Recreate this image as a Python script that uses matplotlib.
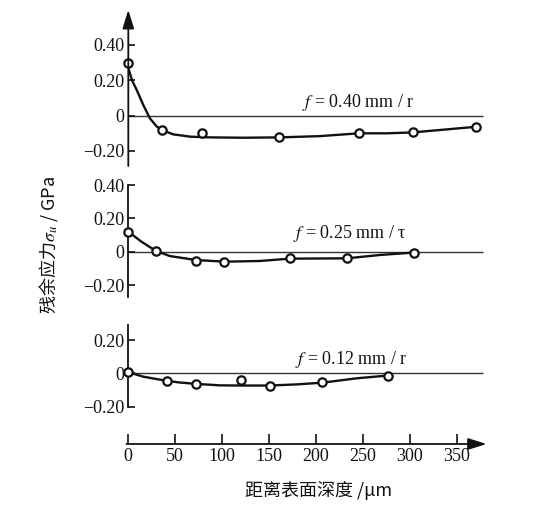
import matplotlib
matplotlib.use("Agg")
import matplotlib.pyplot as plt

plt.rcParams["mathtext.fontset"] = "stix"
plt.rcParams["font.family"] = ["Liberation Serif", "DejaVu Sans"]

# ---------------- data ----------------
depth_ticks = [0, 50, 100, 150, 200, 250, 300, 350]
depth_tick_labels = ["0", "50", "100", "150", "200", "250", "300", "350"]

# f = 0.40 mm/r
pts_x_040 = [0, 36, 79, 161, 246, 303, 371]
pts_y_040 = [0.296, -0.082, -0.100, -0.123, -0.100, -0.094, -0.063]
fit_x_040 = [0, 4, 9, 16, 23, 30, 36, 48, 66, 87, 123, 161, 204, 246, 275, 303, 339, 371]
fit_y_040 = [0.27, 0.20, 0.145, 0.06, -0.015, -0.06, -0.082, -0.106, -0.119, -0.123,
             -0.125, -0.123, -0.116, -0.10, -0.10, -0.095, -0.078, -0.063]
yticks_040 = [0.40, 0.20, 0.0, -0.20]
ylabels_040 = ["0.40", "0.20", "0", "\u22120.20"]

# f = 0.25 mm/r
pts_x_025 = [0, 29, 72, 102, 172, 233, 305]
pts_y_025 = [0.12, 0.006, -0.054, -0.064, -0.04, -0.040, -0.006]
fit_x_025 = [0, 14, 29, 44, 72, 102, 140, 172, 233, 268, 305]
fit_y_025 = [0.12, 0.06, 0.006, -0.026, -0.05, -0.06, -0.056, -0.042, -0.04, -0.02, -0.005]
yticks_025 = [0.40, 0.20, 0.0, -0.20]
ylabels_025 = ["0.40", "0.20", "0", "\u22120.20"]

# f = 0.12 mm/r
pts_x_012 = [0, 41, 72, 120, 151, 207, 277]
pts_y_012 = [0.007, -0.045, -0.063, -0.039, -0.073, -0.053, -0.013]
fit_x_012 = [0, 16, 41, 55, 72, 98, 120, 151, 180, 207, 243, 277]
fit_y_012 = [0.007, -0.02, -0.045, -0.055, -0.063, -0.072, -0.073, -0.073, -0.066, -0.056,
             -0.03, -0.013]
yticks_012 = [0.20, 0.0, -0.20]
ylabels_012 = ["0.20", "0", "\u22120.20"]

labels = ["$f$ = 0.40 mm / r", "$f$ = 0.25 mm / \u03c4", "$f$ = 0.12 mm / r"]
ylabel_text = "残余应力$\\sigma_u$ / GPa"
xlabel_text = "距离表面深度 /μm"

# ---------------- layout ----------------
W, H = 538, 512
fig = plt.figure(figsize=(W / 100, H / 100), dpi=100)
fig.patch.set_facecolor("white")


def px_axes(left, top, right, bottom):
    return fig.add_axes([left / W, 1 - bottom / H, (right - left) / W, (bottom - top) / H])


XL, XR = 128.3, 486.6
XMAX = 382
ZERO_END = 378

panels = [
    (px_axes(XL, 10, XR, 166), (-0.285, 0.598), pts_x_040, pts_y_040, fit_x_040, fit_y_040,
     yticks_040, ylabels_040, labels[0], (185, 0.077)),
    (px_axes(XL, 185, XR, 297), (-0.272, 0.40), pts_x_025, pts_y_025, fit_x_025, fit_y_025,
     yticks_025, ylabels_025, labels[1], (176, 0.112)),
    (px_axes(XL, 325, XR, 406.7), (-0.20, 0.29), pts_x_012, pts_y_012, fit_x_012, fit_y_012,
     yticks_012, ylabels_012, labels[2], (178, 0.081)),
]

for i, (ax, ylim, px_, py_, fx, fy, yt, yl, lab, lpos) in enumerate(panels):
    ax.set_xlim(0, XMAX)
    ax.set_ylim(*ylim)
    ax.patch.set_alpha(0)
    for s in ["top", "right", "bottom"]:
        ax.spines[s].set_visible(False)
    ax.spines["left"].set_linewidth(1.3)
    ax.spines["left"].set_color("#111111")
    ax.set_xticks([])
    ax.set_yticks(yt)
    ax.set_yticklabels(yl)
    ax.tick_params(axis="y", direction="in", length=5, width=1.2, pad=3,
                   labelsize=13, colors="#111111")
    ax.hlines(0, 0, ZERO_END, color="#333333", lw=1.0, zorder=1)
    ax.plot(fx, fy, color="#111111", lw=1.7, zorder=2, solid_capstyle="round")
    ax.plot(px_, py_, "o", ms=6, mfc="white", mec="#111111", mew=1.6, zorder=3,
            clip_on=False)
    ax.text(lpos[0], lpos[1], lab, ha="left", va="center", fontsize=13,
            family="Liberation Serif", color="#111111")
    if i == 0:
        ax.spines["left"].set_visible(False)
        ax.annotate("", xy=(0, 1), xycoords="axes fraction", xytext=(0, 0),
                    textcoords="axes fraction",
                    arrowprops=dict(arrowstyle="-|>,head_length=0.7,head_width=0.22",
                                    lw=1.3, color="#111111", mutation_scale=16,
                                    shrinkA=0, shrinkB=0))

# x axis
axx = px_axes(XL, 430, XR, 444)
axx.set_xlim(0, XMAX)
axx.set_ylim(0, 1)
axx.patch.set_alpha(0)
for s in ["top", "right", "left", "bottom"]:
    axx.spines[s].set_visible(False)
axx.set_yticks([])
axx.set_xticks(depth_ticks)
axx.set_xticklabels(depth_tick_labels)
axx.tick_params(axis="x", direction="in", length=7, width=1.2, pad=3, labelsize=13,
                colors="#111111")
axx.annotate("", xy=(1, 0), xycoords="axes fraction", xytext=(-0.005, 0),
             textcoords="axes fraction",
             arrowprops=dict(arrowstyle="-|>,head_length=0.7,head_width=0.22",
                             lw=1.3, color="#111111", mutation_scale=16,
                             shrinkA=0, shrinkB=0))

fig.text(48 / W, 1 - 245 / H, ylabel_text, rotation=90, ha="center", va="center",
         fontsize=13, family=["Noto Sans CJK SC", "DejaVu Sans"], color="#111111")
fig.text(319 / W, 1 - 490 / H, xlabel_text, ha="center", va="center",
         fontsize=13, family=["Noto Sans CJK SC", "DejaVu Sans"], color="#111111")

fig.savefig("out.png", dpi=100, facecolor="white")
